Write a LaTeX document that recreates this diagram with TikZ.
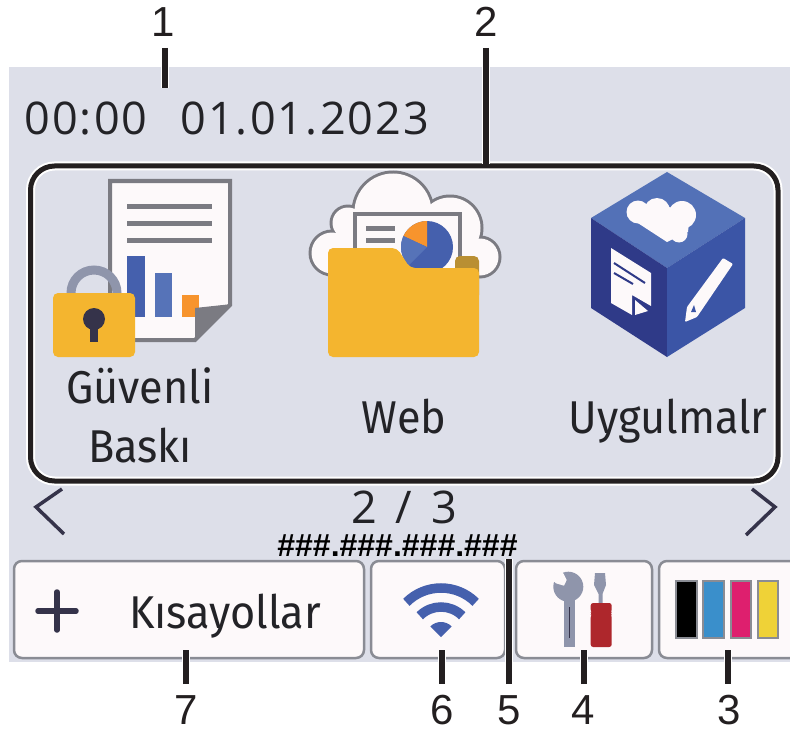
\documentclass[tikz,border=0pt]{standalone}
\usepackage{fontspec}
\usetikzlibrary{calc}
\setmainfont{Liberation Sans}
\newfontfamily\screenfont[LetterSpace=4.8]{Open Sans}
\newfontfamily\screenfontb[FakeStretch=0.94]{Fira Sans}
\definecolor{panel}{HTML}{DDDFE9}
\definecolor{ink}{HTML}{231F20}
\definecolor{scrtext}{HTML}{232327}
\definecolor{btn}{HTML}{FDF9FA}
\definecolor{btnline}{HTML}{8A8C94}
\definecolor{docgray}{HTML}{7B7B82}
\definecolor{lockgray}{HTML}{8F95AB}
\definecolor{dkblue}{HTML}{4560AD}
\definecolor{ltblue}{HTML}{5673B8}
\definecolor{orng}{HTML}{F7942D}
\definecolor{gold}{HTML}{F4B52F}
\definecolor{darkgold}{HTML}{B98F33}
\definecolor{navy}{HTML}{35334A}
\definecolor{cubetop}{HTML}{5371B7}
\definecolor{cubeleft}{HTML}{2F3A88}
\definecolor{cuberight}{HTML}{3B55A6}
\definecolor{toolred}{HTML}{AE272C}
\tikzset{
  callout/.style={font=\fontsize{42}{42}\selectfont,text=ink,anchor=base,inner sep=0pt,outer sep=11pt},
  leader/.style={draw=ink,line width=6pt,preaction={draw=white,line width=8.5pt}},
  scrlabel/.style={font=\screenfontb\fontsize{46}{46}\selectfont,text=scrtext,anchor=base,inner sep=0pt},
  scrwide/.style={scrlabel,font=\screenfont\fontsize{45}{45}\selectfont},
  softkey/.style={draw=btnline,line width=2.5pt,fill=btn,rounded corners=8pt},
  doclines/.style={draw=docgray,line width=5pt},
  chev/.style={draw=navy,line width=3.5pt},
  inkbar/.style={draw=btnline,line width=2pt},
  wifi/.style={draw=dkblue,line width=9.5pt}
}
\begin{document}
\begin{tikzpicture}[x=1pt,y=-1pt]
\useasboundingbox (0,0) rectangle (790,733);
\begin{scope}
\clip (0,0) rectangle (790,733);
% panel
\fill[panel] (9,67) rectangle (790,662);
% header
\node[scrwide,anchor=base west] (clock) at (24,135) {00:00};
\node[scrwide,anchor=base west] (date) at (180,135) {01.01.2023};
% chevrons
\draw[chev] (62,489) -- (36,507) -- (64,534);
\draw[chev] (752,489) -- (775,507) -- (746,535);
\node[scrwide] (page) at (404,523) {2\hspace{5pt} / \hspace{5pt}3};
\node[font=\fontsize{32}{32}\selectfont\bfseries,text=black,anchor=base,inner sep=0pt] (ip) at (397.5,556) {\#\#\#.\#\#\#.\#\#\#.\#\#\#};
% frame
\draw[white,line width=9pt,rounded corners=24pt] (30.5,166) rectangle (778,481);
\draw[ink,line width=5pt,rounded corners=24pt] (30.5,166) rectangle (778,481);
% document icon
\filldraw[draw=docgray,fill=btn,line width=4pt] (110,181) -- (230,181) -- (230,305) -- (195,340) -- (110,340) -- cycle;
\draw[doclines] (127,206) -- (212,206);
\draw[doclines] (127,223) -- (212,223);
\draw[doclines] (127,240) -- (212,240);
\fill[dkblue] (127,256) rectangle (145,317);
\fill[ltblue] (154.5,273) rectangle (172,317);
\fill[orng] (182,295) rectangle (199,317);
\fill[docgray] (195,308) -- (232,304) -- (195,342) -- cycle;
\draw[lockgray,line width=9pt] (71,300) -- (71,293) arc[start angle=180,end angle=360,radius=23] -- (117,300);
\fill[gold,rounded corners=5pt] (53,293) rectangle (135,357);
\fill[navy] (94,319) circle[radius=11];
\fill[navy] (90,322) rectangle (98,342);
\node[scrlabel] (secure1) at (140,403) {Güvenli};
\node[scrlabel] (secure2) at (140,462) {Baskı};
% web icon
\foreach \cx/\cy/\r in {393/212/40,348/223/17,332/253/22,450/228/32,480/257/20}
  \fill[docgray] (\cx,\cy) circle[radius=\r+1.5];
\foreach \cx/\cy/\r in {393/212/40,348/223/17,332/253/22,450/228/32,480/257/20}
  \fill[btn] (\cx,\cy) circle[radius=\r-1.5];
\fill[btn] (340,225) rectangle (470,300);
\filldraw[draw=docgray,fill=btn,line width=4pt] (355,214) rectangle (460,290);
\draw[doclines] (366,228) -- (395,228);
\draw[doclines] (366,240) -- (395,240);
\fill[dkblue] (427,247) circle[radius=26];
\fill[orng] (427,247) -- (427,221) arc[start angle=270,end angle=205,radius=26] -- cycle;
\fill[ltblue] (427,247) -- ++(205:26) arc[start angle=205,end angle=135,radius=26] -- cycle;
\fill[darkgold,rounded corners=5pt] (455,256) rectangle (479,300);
\fill[gold,rounded corners=5pt] (328,248) -- (397,248) -- (410,268) -- (479,268) -- (479,357) -- (328,357) -- cycle;
\node[scrlabel] (web) at (404,433) {Web};
% cube
\fill[cubetop] (667,172) -- (745,218) -- (667,268) -- (591,218) -- cycle;
\fill[cubeleft] (591,218) -- (667,268) -- (667,357) -- (591,308) -- cycle;
\fill[cuberight] (745,218) -- (667,268) -- (667,357) -- (745,308) -- cycle;
\fill[btn] (638,212) circle[radius=11.5];
\fill[btn] (657,211) circle[radius=13];
\fill[btn] (682,215) circle[radius=14];
\fill[btn] (679,234) circle[radius=8.5];
\fill[btn] (627,216) -- (667,242) -- (688,232) -- (690,212) -- (660,205) -- (635,208) -- cycle;
\fill[btn] (611,248) -- (651,273) -- (651,306) -- (632,295) -- (632,315) -- (611,303) -- cycle;
\fill[btn] (635,300) -- (648,311) -- (635,315) -- cycle;
\draw[cubeleft,line width=2pt] (614,263) -- (645,283);
\draw[cubeleft,line width=2pt] (614,273) -- (633,284);
\fill[btn,rounded corners=1pt] (723,258) -- (733,264) -- (697,317) -- (685,322) -- (687,307) -- cycle;
\fill[cuberight] (694,305) -- (696,312) -- (691,312) -- cycle;
\node[scrlabel] (apps) at (668,433) {Uygulmalr};
% soft keys
\path[softkey] (14,561) rectangle (364,658);
\path[softkey] (371,561) rectangle (505,658);
\path[softkey] (516,561) rectangle (652,658);
\path[softkey] (659,561) rectangle (810,658);
% plus
\draw[navy,line width=5.5pt,line cap=round] (38,611) -- (76,611);
\draw[navy,line width=5.5pt,line cap=round] (57,592) -- (57,630);
\node[scrlabel] (short) at (225,628) {Kısayollar};
% wifi
\coordinate (wf) at (441,637);
\draw[wifi] ($(wf)+(225:49)$) arc[start angle=225,end angle=315,radius=49];
\draw[wifi] ($(wf)+(225:30)$) arc[start angle=225,end angle=315,radius=30];
\fill[dkblue] (wf) -- ($(wf)+(225:15)$) arc[start angle=225,end angle=315,radius=15] -- cycle;
% wrench
\fill[lockgray] (568.3,586.7) circle[radius=15];
\fill[lockgray] (564,590) rectangle (575,646.7);
\fill[btn] (550,578) -- (560.7,568.3) -- (566.7,580) -- (564,585.7) -- (556,583.3) -- cycle;
\draw[navy,line width=1.5pt] (569.5,607) -- (569.5,638);
% screwdriver
\fill[lockgray] (595,573) -- (605,573) -- (606,585) -- (602.5,594) -- (602.5,604) -- (598.5,604) -- (598.5,594) -- (594,585) -- cycle;
\fill[toolred,rounded corners=2.5pt] (590.7,603) -- (611.7,603) -- (611.7,612) -- (610,613.5) -- (611.7,615) -- (611.7,647) -- (590.7,647) -- (590.7,615) -- (592.4,613.5) -- (590.7,612) -- cycle;
% ink bars
\filldraw[inkbar,fill=black] (676,581) rectangle (697,638);
\filldraw[inkbar,fill={rgb,255:red,58;green,143;blue,203}] (703,581) rectangle (724,638);
\filldraw[inkbar,fill={rgb,255:red,222;green,31;blue,110}] (731,581) rectangle (751,638);
\filldraw[inkbar,fill={rgb,255:red,239;green,210;blue,55}] (758,581) rectangle (778,638);
\end{scope}
% callouts
\node[callout] (n1) at (163,37) {1};
\node[callout] (n2) at (486,37) {2};
\node[callout] (n7) at (186,724) {7};
\node[callout] (n6) at (442,724) {6};
\node[callout] (n5) at (509,724) {5};
\node[callout] (n4) at (583,724) {4};
\node[callout] (n3) at (729,724) {3};
\coordinate (t1) at (165,88);
\coordinate (t2) at (486,164);
\coordinate (t7) at (186,650);
\coordinate (t6) at (442,650);
\coordinate (t5) at (509,559);
\coordinate (t4) at (584,650);
\coordinate (t3) at (728,650);
\draw[leader] (n1.south -| t1) -- (t1);
\draw[leader] (n2.south -| t2) -- (t2);
\draw[leader] (n7.north -| t7) -- (t7);
\draw[leader] (n6.north -| t6) -- (t6);
\draw[leader] (n5.north -| t5) -- (t5);
\draw[leader] (n4.north -| t4) -- (t4);
\draw[leader] (n3.north -| t3) -- (t3);
\end{tikzpicture}
\end{document}
